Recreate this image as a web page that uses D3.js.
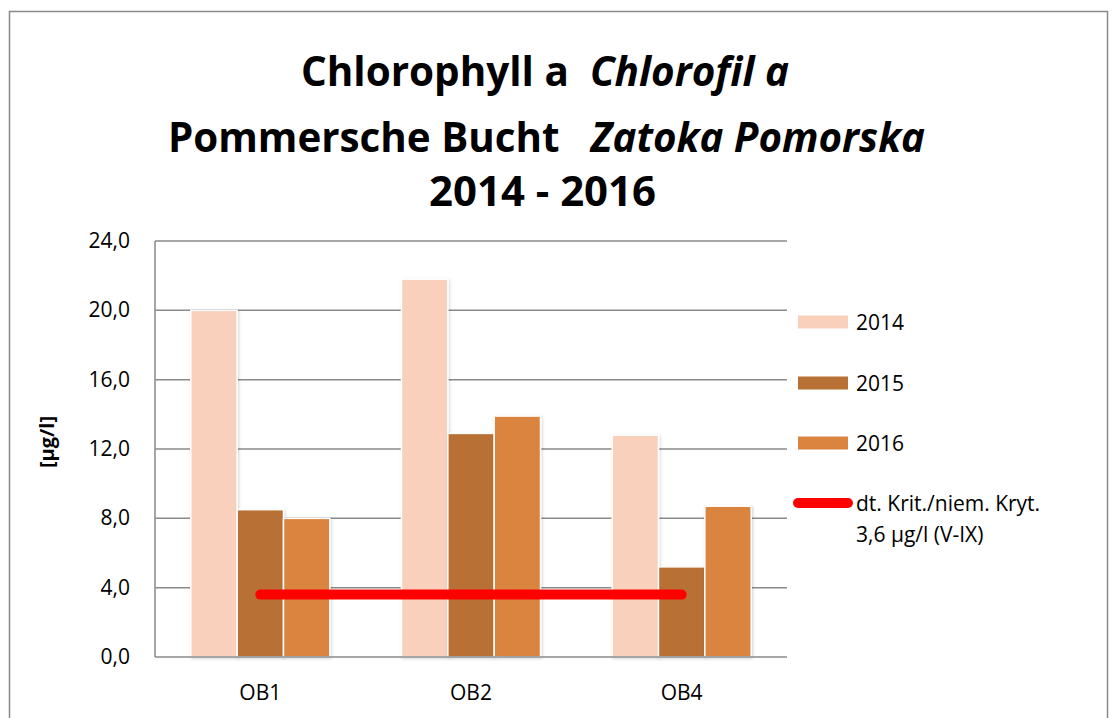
<!DOCTYPE html>
<html>
<head>
<meta charset="utf-8">
<script src="https://cdn.jsdelivr.net/npm/d3@7"></script>
<style>
  body { margin: 0; background: #fff; }
  svg { display: block; font-family: "Open Sans", "Noto Sans", sans-serif; }
</style>
</head>
<body>
<svg id="chart" width="1112" height="718"></svg>
<script>
// data
var stations = ["OB1", "OB2", "OB4"];
var years = ["2014", "2015", "2016"];
var values2014 = [20.0, 21.8, 12.8];
var values2015 = [8.5, 12.9, 5.2];
var values2016 = [8.0, 13.9, 8.7];
var criterion = [3.6, 3.6, 3.6];
var yTicks = [0, 4, 8, 12, 16, 20, 24];
var yearColors = ["#f9d0bb", "#b87034", "#da8440"];
var criterionLabel = ["dt. Krit./niem. Kryt.", "3,6 µg/l (V-IX)"];

var svg = d3.select("#chart");

var margin = {left: 155, right: 787, top: 241, bottom: 657};

var x0 = d3.scaleBand()
    .domain(stations)
    .range([margin.left, margin.right])
    .paddingInner(0.34)
    .paddingOuter(0.17);

var x1 = d3.scaleBand()
    .domain(years)
    .range([0, x0.bandwidth()]);

var y = d3.scaleLinear()
    .domain([0, 24])
    .range([margin.bottom, margin.top]);

var seriesValues = [values2014, values2015, values2016];

// outer border
svg.append("rect")
    .attr("x", 9.5).attr("y", 11.5)
    .attr("width", 1098).attr("height", 720)
    .attr("fill", "none")
    .attr("stroke", "#888")
    .attr("stroke-width", 1.5);

// shadow for bars
var defs = svg.append("defs");
defs.append("filter")
    .attr("id", "shadow")
    .attr("x", "-20%").attr("y", "-5%")
    .attr("width", "140%").attr("height", "110%")
  .append("feDropShadow")
    .attr("dx", 1).attr("dy", 1)
    .attr("stdDeviation", 1.5)
    .attr("flood-color", "#000")
    .attr("flood-opacity", 0.18);

// title
var title = svg.append("g")
    .attr("font-weight", "bold")
    .attr("fill", "#000")
    .attr("font-size", 42);

var t1 = title.append("text").attr("x", 301).attr("y", 86)
    .attr("textLength", 488).attr("lengthAdjust", "spacingAndGlyphs")
    .attr("xml:space", "preserve");
t1.append("tspan").text("Chlorophyll a  ");
t1.append("tspan").attr("font-style", "italic").text("Chlorofil a");

var t2 = title.append("text").attr("x", 168).attr("y", 152)
    .attr("textLength", 757).attr("lengthAdjust", "spacingAndGlyphs")
    .attr("xml:space", "preserve");
t2.append("tspan").text("Pommersche Bucht   ");
t2.append("tspan").attr("font-style", "italic").text("Zatoka Pomorska");

title.append("text").attr("x", 429).attr("y", 206)
    .attr("textLength", 227).attr("lengthAdjust", "spacingAndGlyphs")
    .text("2014 - 2016");

// gridlines
svg.append("g")
    .selectAll("line")
    .data(yTicks.slice(1))
    .enter().append("line")
    .attr("x1", margin.left).attr("x2", margin.right)
    .attr("y1", function(d) { return y(d); })
    .attr("y2", function(d) { return y(d); })
    .attr("stroke", "#8a8a8a")
    .attr("stroke-width", 1.5);

// y axis line
svg.append("line")
    .attr("x1", margin.left).attr("x2", margin.left)
    .attr("y1", margin.top).attr("y2", margin.bottom)
    .attr("stroke", "#8a8a8a")
    .attr("stroke-width", 1.5);

// y tick labels
svg.append("g")
    .selectAll("text")
    .data(yTicks)
    .enter().append("text")
    .attr("x", 130)
    .attr("y", function(d) { return y(d) + 7; })
    .attr("text-anchor", "end")
    .attr("font-size", 21)
    .attr("fill", "#000")
    .text(function(d) { return d3.format(".1f")(d).replace(".", ","); });

// y axis title
svg.append("text")
    .attr("transform", "translate(54,442) rotate(-90)")
    .attr("text-anchor", "middle")
    .attr("font-size", 20)
    .attr("font-weight", "bold")
    .text("[µg/l]");

// bars
var groups = svg.append("g")
    .selectAll("g")
    .data(stations)
    .enter().append("g")
    .attr("transform", function(d) { return "translate(" + x0(d) + ",0)"; });

groups.selectAll("rect")
    .data(function(d, i) {
        return years.map(function(yr, j) { return {year: yr, value: seriesValues[j][i], idx: j}; });
    })
    .enter().append("rect")
    .attr("x", function(d) { return x1(d.year); })
    .attr("y", function(d) { return y(d.value); })
    .attr("width", x1.bandwidth())
    .attr("height", function(d) { return y(0) - y(d.value); })
    .attr("fill", function(d) { return yearColors[d.idx]; })
    .attr("stroke", "#fff")
    .attr("stroke-width", 1.5)
    .attr("filter", "url(#shadow)");

// x axis line
svg.append("line")
    .attr("x1", margin.left).attr("x2", margin.right)
    .attr("y1", margin.bottom).attr("y2", margin.bottom)
    .attr("stroke", "#8a8a8a")
    .attr("stroke-width", 1.5);

// x labels
svg.append("g")
    .selectAll("text")
    .data(stations)
    .enter().append("text")
    .attr("x", function(d) { return x0(d) + x0.bandwidth() / 2; })
    .attr("y", 700)
    .attr("text-anchor", "middle")
    .attr("font-size", 21)
    .text(function(d) { return d; });

// criterion line
var line = d3.line()
    .x(function(d, i) { return x0(stations[i]) + x0.bandwidth() / 2; })
    .y(function(d) { return y(d); });

svg.append("path")
    .datum(criterion)
    .attr("d", line)
    .attr("fill", "none")
    .attr("stroke", "#ff0000")
    .attr("stroke-width", 10)
    .attr("stroke-linecap", "round");

// legend
var legend = svg.append("g");
var legendY = [322, 383, 443];

years.forEach(function(yr, i) {
    legend.append("rect")
        .attr("x", 798).attr("y", legendY[i] - 6.5)
        .attr("width", 50).attr("height", 13)
        .attr("fill", yearColors[i]);
    legend.append("text")
        .attr("x", 856).attr("y", legendY[i] + 8)
        .attr("font-size", 21)
        .text(yr);
});

legend.append("line")
    .attr("x1", 798).attr("x2", 848)
    .attr("y1", 503).attr("y2", 503)
    .attr("stroke", "#ff0000")
    .attr("stroke-width", 10)
    .attr("stroke-linecap", "round");

legend.selectAll("text.crit")
    .data(criterionLabel)
    .enter().append("text")
    .attr("class", "crit")
    .attr("x", 856)
    .attr("y", function(d, i) { return 511 + i * 31; })
    .attr("font-size", 21)
    .text(function(d) { return d; });
</script>
</body>
</html>
